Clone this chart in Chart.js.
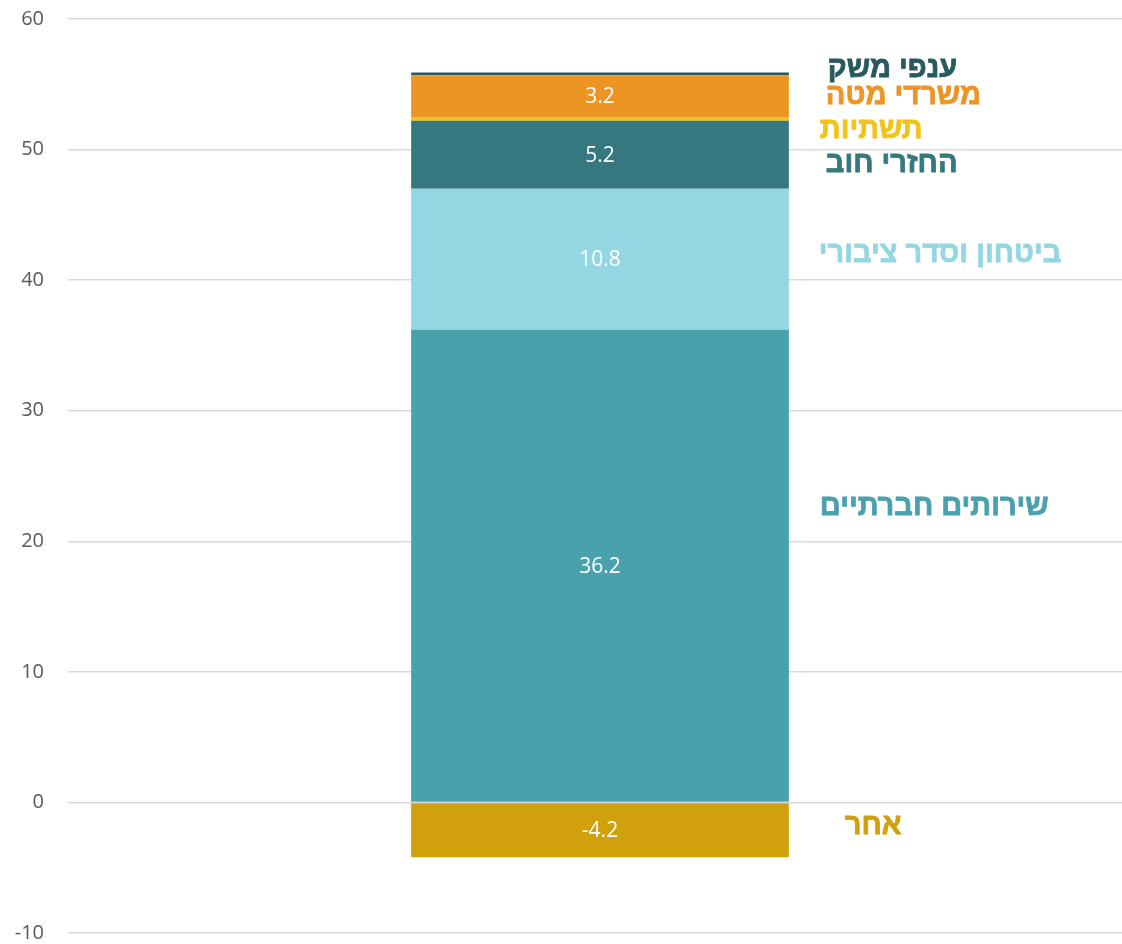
<!DOCTYPE html>
<html>
<head>
<meta charset="utf-8">
<script src="https://cdn.jsdelivr.net/npm/chart.js@4.4.1/dist/chart.umd.min.js"></script>
<style>
  html, body { margin: 0; padding: 0; background: #fff; overflow: hidden; }
  #wrap { position: absolute; left: 0; top: -17px; width: 1132px; height: 986px; }
</style>
</head>
<body>
<div id="wrap"><canvas id="myCanvas"></canvas></div>
<script>
// data
const categories = [''];
const seriesNames = ['שירותים חברתיים', 'ביטחון וסדר ציבורי', 'החזרי חוב', 'תשתיות', 'משרדי מטה', 'ענפי משק', 'אחר'];
const seriesValues = [36.2, 10.8, 5.2, 0.3, 3.2, 0.2, -4.2];
const seriesColors = ['#4AA0AD', '#94D7E3', '#367880', '#F2C318', '#EC9525', '#27595F', '#D0A10D'];
const yTicks = [-10, 0, 10, 20, 30, 40, 50, 60];

// where the series names sit beside the bar (value units / px from bar edge)
const nameSpots = [
  { y: 22.6, dx: 31 },
  { y: 42.0, dx: 30 },
  { y: 48.9, dx: 37 },
  { y: 51.5, dx: 31 },
  { y: 54.1, dx: 37 },
  { y: 56.2, dx: 39 },
  { y: -1.8, dx: 56 }
];

const canvas = document.getElementById('myCanvas');

const labelsPlugin = {
  id: 'segLabels',
  afterDatasetsDraw(chart) {
    const ctx = chart.ctx;
    const yScale = chart.scales.y;
    ctx.save();
    chart.data.datasets.forEach((ds, i) => {
      const bar = chart.getDatasetMeta(i).data[0];
      // value inside the bar
      if (Math.abs(ds.data[0]) >= 1) {
        ctx.font = '21px "Open Sans", sans-serif';
        ctx.fillStyle = '#ffffff';
        ctx.textAlign = 'center';
        ctx.textBaseline = 'middle';
        ctx.fillText(String(ds.data[0]), bar.x, (bar.y + bar.base) / 2 + 1);
      }
      // series name to the right
      const spot = nameSpots[i];
      const x = bar.x + bar.width / 2 + spot.dx;
      const y = yScale.getPixelForValue(spot.y);
      ctx.font = 'bold 29px "Liberation Sans", Arial, sans-serif';
      ctx.fillStyle = seriesColors[i];
      ctx.strokeStyle = seriesColors[i];
      ctx.lineWidth = 0.8;
      ctx.textAlign = 'left';
      ctx.textBaseline = 'middle';
      ctx.fillText(seriesNames[i], x, y);
      ctx.strokeText(seriesNames[i], x, y);
    });
    ctx.restore();
  }
};

if (canvas) {
  const ctx = canvas.getContext('2d');
  new Chart(ctx, {
    type: 'bar',
    data: {
      labels: categories,
      datasets: seriesNames.map((name, i) => ({
        label: name,
        data: [seriesValues[i]],
        backgroundColor: seriesColors[i],
        borderWidth: 0,
        barPercentage: 0.355,
        categoryPercentage: 1
      }))
    },
    options: {
      responsive: true,
      maintainAspectRatio: false,
      animation: false,
      layout: { padding: 0 },
      plugins: {
        legend: { display: false },
        tooltip: { enabled: false }
      },
      scales: {
        x: {
          display: false,
          stacked: true
        },
        y: {
          stacked: true,
          min: -10,
          max: 60,
          afterBuildTicks: (axis) => { axis.ticks = yTicks.map(v => ({ value: v })); },
          grid: { color: '#d9d9d9', lineWidth: 1.5, drawTicks: false },
          border: { display: false },
          afterFit: (axis) => { axis.width = 68; },
          ticks: {
            color: '#595959',
            padding: 24,
            font: { size: 20, family: '"Open Sans", sans-serif' }
          }
        }
      }
    },
    plugins: [labelsPlugin]
  });
} else {
  console.error('Canvas element not found.');
}
</script>
</body>
</html>
